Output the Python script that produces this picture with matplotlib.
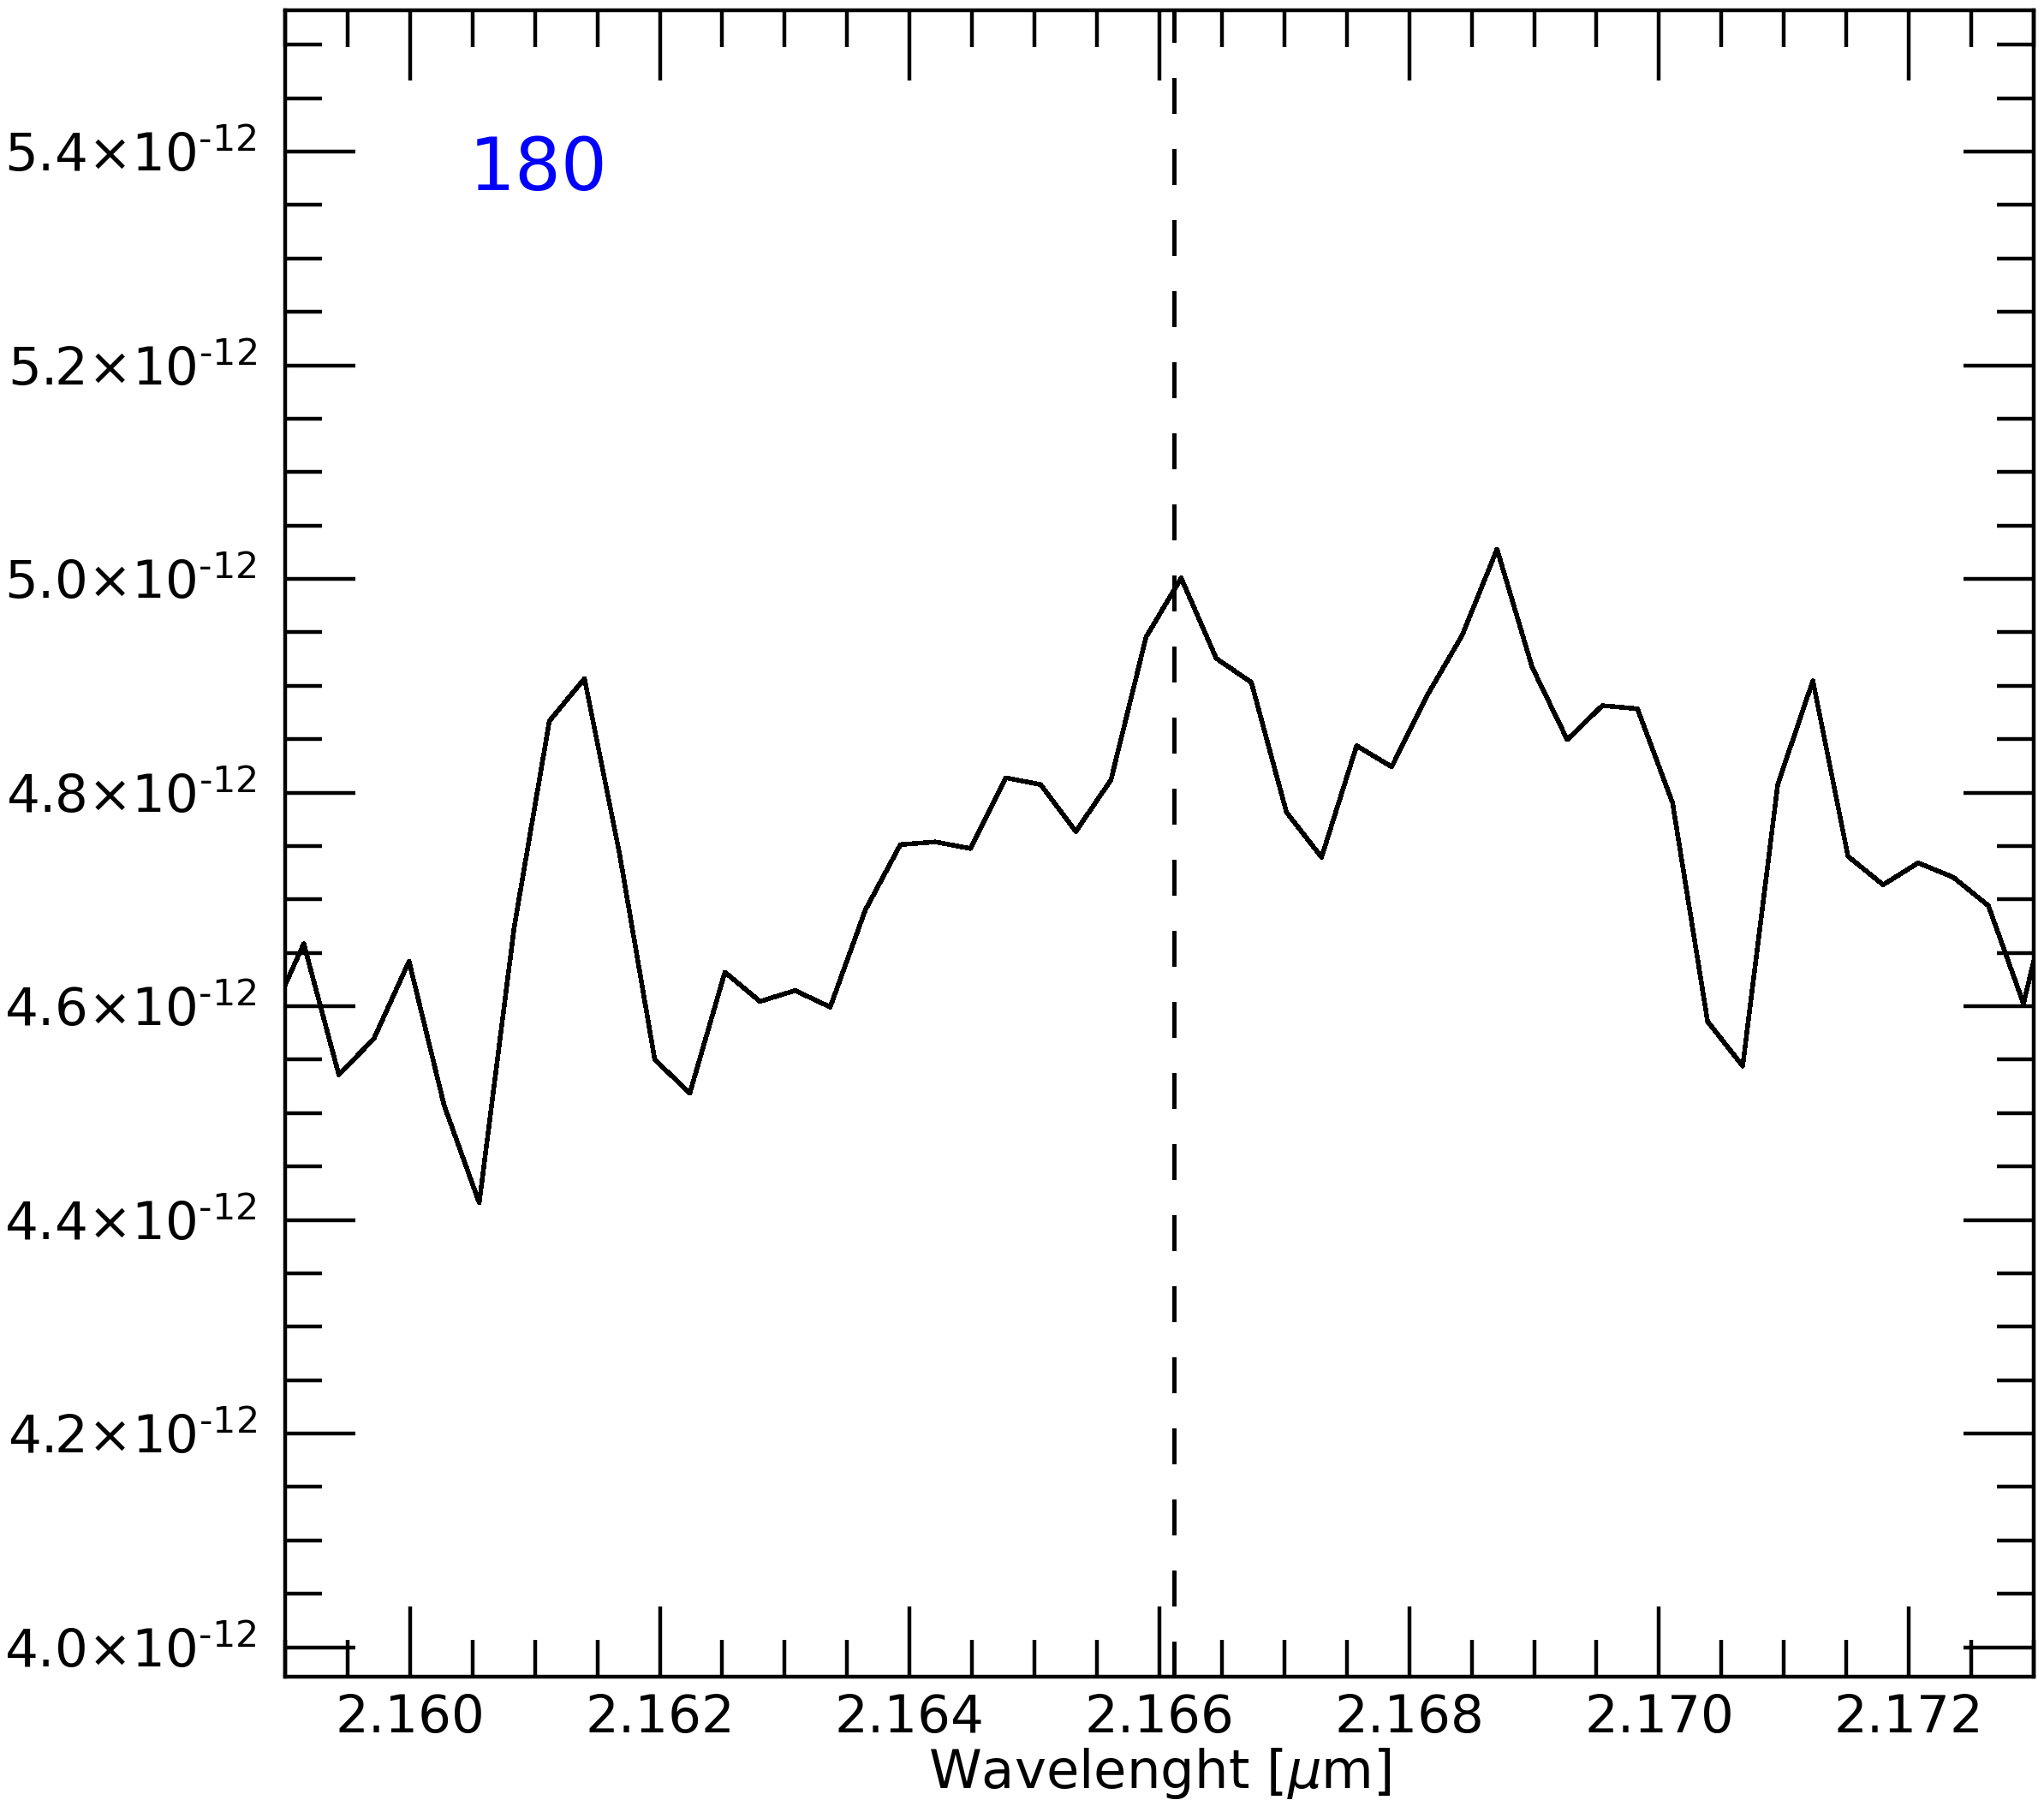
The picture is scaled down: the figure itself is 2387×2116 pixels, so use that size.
import numpy as np
import matplotlib
matplotlib.use('Agg')
import matplotlib.pyplot as plt
from matplotlib.ticker import MultipleLocator, FixedLocator, FuncFormatter

# espectro (comprimento de onda em micron, fluxo em unidades de 1e-12)
wavelength = [2.158868, 2.159149, 2.159430, 2.159711, 2.159992, 2.160273, 2.160554,
              2.160835, 2.161116, 2.161397, 2.161678, 2.161959, 2.162240, 2.162521,
              2.162802, 2.163083, 2.163364, 2.163645, 2.163926, 2.164207, 2.164488,
              2.164769, 2.165050, 2.165331, 2.165612, 2.165893, 2.166174, 2.166455,
              2.166736, 2.167017, 2.167298, 2.167579, 2.167860, 2.168141, 2.168422,
              2.168703, 2.168984, 2.169265, 2.169546, 2.169827, 2.170108, 2.170389,
              2.170670, 2.170951, 2.171232, 2.171513, 2.171794, 2.172075, 2.172356,
              2.172637, 2.172918, 2.173199]
flux = [4.5857, 4.6585, 4.5358, 4.5697, 4.6421, 4.5072, 4.4160, 4.6748, 4.8671,
        4.9067, 4.7423, 4.5501, 4.5186, 4.6319, 4.6045, 4.6147, 4.5992, 4.6900,
        4.7513, 4.7538, 4.7476, 4.8139, 4.8074, 4.7636, 4.8119, 4.9456, 5.0008,
        4.9256, 4.9031, 4.7816, 4.7395, 4.8438, 4.8241, 4.8904, 4.9468, 5.0278,
        4.9174, 4.8495, 4.8814, 4.8785, 4.7906, 4.5857, 4.5440, 4.8078, 4.9047,
        4.7403, 4.7137, 4.7342, 4.7207, 4.6941, 4.6025, 4.7382]
escala = 1e-12

linha_brg = 2.16612   # Br gamma
rotulo = '180'

xticks = [2.160, 2.162, 2.164, 2.166, 2.168, 2.170, 2.172]
yticks = [4.0, 4.2, 4.4, 4.6, 4.8, 5.0, 5.2, 5.4]

x = np.array(wavelength)
y = np.array(flux) * escala

fig = plt.figure(figsize=(23.87, 21.16), dpi=100)
ax = fig.add_axes([0.1395, 0.0748, 0.99497 - 0.1395, 0.99433 - 0.0748])

ax.plot(x, y, color='black', lw=3.2, antialiased=False)
ax.axvline(linha_brg, color='black', lw=3.4, linestyle=(0, (8.8, 8.8)), antialiased=False)

ax.set_xlim(2.159, 2.173)
ax.set_ylim(3.9726e-12, 5.5323e-12)

ax.xaxis.set_major_locator(FixedLocator(xticks))
ax.xaxis.set_minor_locator(MultipleLocator(0.0005))
ax.xaxis.set_major_formatter(FuncFormatter(lambda v, p: '%.3f' % v))

ax.yaxis.set_major_locator(FixedLocator([t * escala for t in yticks]))
ax.yaxis.set_minor_locator(FixedLocator([v * escala for v in np.arange(3.95, 5.56, 0.05)]))


def fmt_y(v, pos):
    return '%.1f×1' % (v / escala) + r'$\mathdefault{0^{‐12}}$'


ax.yaxis.set_major_formatter(FuncFormatter(fmt_y))

for s in ax.spines.values():
    s.set_linewidth(3.2)

ax.tick_params(which='both', direction='in', top=True, right=True, width=3.2)
ax.tick_params(which='major', length=59)
ax.tick_params(which='minor', length=31)
ax.tick_params(axis='x', which='major', labelsize=44, pad=14)
ax.tick_params(axis='y', which='major', labelsize=44, pad=24)

ax.set_xlabel(r'Wavelenght [$\mu$m]', fontsize=45, labelpad=2)

ax.text(0.1051, 0.8921, rotulo, transform=ax.transAxes, color='blue', fontsize=61,
        ha='left', va='baseline')

plt.savefig('out.png', dpi=100)
